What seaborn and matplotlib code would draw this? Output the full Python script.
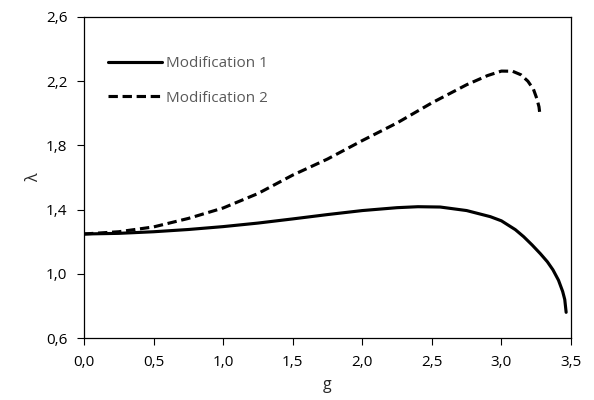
import matplotlib
matplotlib.use("Agg")
import matplotlib.pyplot as plt
import seaborn as sns
import pandas as pd

# data
g_mod1 = [0.0, 0.25, 0.5, 0.75, 1.0, 1.25, 1.5, 1.75, 2.0, 2.25, 2.4, 2.56, 2.75,
          2.92, 3.0, 3.1, 3.16, 3.22, 3.28, 3.33, 3.37, 3.41, 3.44, 3.455, 3.465]
lam_mod1 = [1.248, 1.252, 1.262, 1.276, 1.294, 1.316, 1.342, 1.369, 1.394, 1.412, 1.418,
            1.416, 1.394, 1.356, 1.33, 1.275, 1.231, 1.18, 1.125, 1.075, 1.025, 0.96,
            0.89, 0.84, 0.76]
g_mod2 = [0.0, 0.25, 0.5, 0.75, 1.0, 1.25, 1.5, 1.75, 2.0, 2.25, 2.5, 2.75, 2.9,
          3.0, 3.08, 3.14, 3.19, 3.23, 3.255, 3.27, 3.278]
lam_mod2 = [1.248, 1.262, 1.292, 1.345, 1.41, 1.5, 1.615, 1.715, 1.83, 1.94, 2.065, 2.178, 2.235,
            2.263, 2.262, 2.24, 2.2, 2.15, 2.09, 2.04, 1.98]
names = ["Modification 1", "Modification 2"]
xticks = [0.0, 0.5, 1.0, 1.5, 2.0, 2.5, 3.0, 3.5]
yticks = [0.6, 1.0, 1.4, 1.8, 2.2, 2.6]

df = pd.concat([
    pd.DataFrame({"g": g_mod1, "lam": lam_mod1, "series": names[0]}),
    pd.DataFrame({"g": g_mod2, "lam": lam_mod2, "series": names[1]}),
])

sns.set_style("ticks")
plt.rcParams["font.family"] = ["Open Sans", "DejaVu Sans"]

fig = plt.figure(figsize=(5.94, 4.0), dpi=100)
ax = fig.add_axes([0.1414, 0.155, 0.8199, 0.8025])

sns.lineplot(data=df, x="g", y="lam", style="series", sort=False,
             dashes={names[0]: "", names[1]: (3, 1.5)}, color="black",
             linewidth=2.25, ax=ax, estimator=None)

ax.set_xlim(0, 3.5)
ax.set_ylim(0.6, 2.6)
ax.set_xticks(xticks)
ax.set_yticks(yticks)
ax.set_xticklabels([f"{v:.1f}".replace(".", ",") for v in xticks])
ax.set_yticklabels([f"{v:.1f}".replace(".", ",") for v in yticks])
ax.tick_params(direction="out", length=5, width=0.8, color="black",
               labelsize=11, labelcolor="black", pad=7)
for s in ax.spines.values():
    s.set_visible(True)
    s.set_linewidth(0.9)
    s.set_color("black")
ax.tick_params(top=False, right=False)

ax.set_xlabel("g", fontsize=11.5, labelpad=5)
ax.set_ylabel("λ", fontsize=11.5, labelpad=3)

leg = ax.legend(loc="upper left", bbox_to_anchor=(0.022, 0.92), frameon=False,
                fontsize=11, handlelength=3.5, handletextpad=0.25, labelspacing=1.25)
for t in leg.get_texts():
    t.set_color("#595959")

fig.savefig("out.png", dpi=100)
